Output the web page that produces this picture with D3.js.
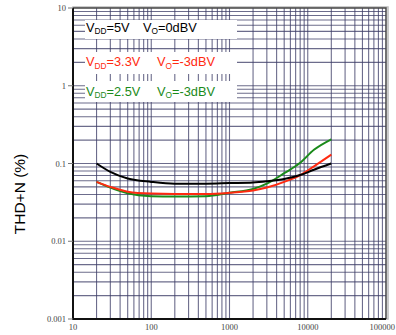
<!DOCTYPE html>
<html>
<head>
<meta charset="utf-8">
<script src="https://cdn.jsdelivr.net/npm/d3@7"></script>
<style>
  body { margin: 0; background: #fff; }
  svg { display: block; }
</style>
</head>
<body>
<div id="chart"></div>
<script>
// frequency (Hz) and THD+N (%)
var freq = [20, 30, 50, 100, 200, 500, 1000, 2000, 3000, 5000, 8000, 12000, 20000];
var thd5v = [0.1, 0.078, 0.064, 0.058, 0.055, 0.055, 0.056, 0.057, 0.059, 0.063, 0.071, 0.083, 0.1];
var thd33v = [0.058, 0.05, 0.0434, 0.041, 0.0405, 0.0405, 0.042, 0.045, 0.049, 0.058, 0.071, 0.092, 0.13];
var thd25v = [0.058, 0.049, 0.0414, 0.038, 0.0375, 0.038, 0.042, 0.047, 0.055, 0.075, 0.102, 0.15, 0.205];

var xTicks = [10, 100, 1000, 10000, 100000];
var yTicks = [0.001, 0.01, 0.1, 1, 10];
var yTickLabels = ["0.001", "0.01", "0.1", "1", "10"];

var series = [
  {vdd: "2.5V", vo: "-3dBV", values: thd25v, color: "#1a8a1a"},
  {vdd: "3.3V", vo: "-3dBV", values: thd33v, color: "#ff2a10"},
  {vdd: "5V", vo: "0dBV", values: thd5v, color: "#000"}
];

var svgWidth = 396, svgHeight = 335;
var margin = {top: 8, right: 10, bottom: 16, left: 73};
var width = 386 - margin.left;
var height = 319 - margin.top;

var svg = d3.select("#chart").append("svg")
  .attr("width", svgWidth)
  .attr("height", svgHeight);

var g = svg.append("g")
  .attr("transform", `translate(${margin.left}, ${margin.top})`);

var x = d3.scaleLog().domain([10, 100000]).range([0, width]);
var y = d3.scaleLog().domain([0.001, 10]).range([height, 0]);

// minor log grid: 1..9 in every decade
var xGrid = [], yGrid = [];
for (var d = 10; d < 100000; d *= 10) {
  for (var k = 1; k < 10; k++) xGrid.push(d * k);
}
for (var d2 = 0.001; d2 < 9; d2 *= 10) {
  for (var k2 = 1; k2 < 10; k2++) yGrid.push(d2 * k2);
}

g.append("g").selectAll("line")
  .data(xGrid.slice(1))
  .enter().append("line")
  .attr("x1", d => x(d)).attr("x2", d => x(d))
  .attr("y1", 0).attr("y2", height)
  .attr("stroke", "#3c3c66")
  .attr("stroke-width", 1.1)
  .attr("opacity", 0.75);

g.append("g").selectAll("line")
  .data(yGrid.slice(1))
  .enter().append("line")
  .attr("x1", 0).attr("x2", width)
  .attr("y1", d => y(d)).attr("y2", d => y(d))
  .attr("stroke", "#3c3c66")
  .attr("stroke-width", 1.1)
  .attr("opacity", 0.75);

// frame: shadow on top/right, heavy left/bottom axis
g.append("rect")
  .attr("x", 0).attr("y", -1)
  .attr("width", width + 2).attr("height", height + 1)
  .attr("fill", "none")
  .attr("stroke", "#bbb")
  .attr("stroke-width", 1.5);
g.append("path")
  .attr("d", `M0,0H${width}V${height}`)
  .attr("fill", "none")
  .attr("stroke", "#444")
  .attr("stroke-width", 1.5);
g.append("path")
  .attr("d", `M0,0V${height}H${width}`)
  .attr("fill", "none")
  .attr("stroke", "#111")
  .attr("stroke-width", 2);

// legend boxes
var legendBoxes = [
  {y: 20, h: 19, s: series[2], vx: 143, base: 31.5},
  {y: 52, h: 22, s: series[1], vx: 157, base: 66},
  {y: 81, h: 21, s: series[0], vx: 157, base: 95.5}
];
legendBoxes.forEach(function(b) {
  svg.append("rect")
    .attr("x", 85).attr("y", b.y)
    .attr("width", 152).attr("height", b.h)
    .attr("fill", "#fff");
  var t1 = svg.append("text")
    .attr("x", 86).attr("y", b.base)
    .attr("font-family", "Liberation Sans, Arial, sans-serif")
    .attr("font-size", 12.8)
    .attr("fill", b.s.color);
  t1.append("tspan").text("V");
  t1.append("tspan").attr("font-size", 8.3).attr("dy", 2.5).text("DD");
  t1.append("tspan").attr("dy", -2.5).text("=" + b.s.vdd);
  var t2 = svg.append("text")
    .attr("x", b.vx).attr("y", b.base)
    .attr("font-family", "Liberation Sans, Arial, sans-serif")
    .attr("font-size", 12.8)
    .attr("fill", b.s.color);
  t2.append("tspan").text("V");
  t2.append("tspan").attr("font-size", 8.3).attr("dy", 2.5).text("O");
  t2.append("tspan").attr("dy", -2.5).text("=" + b.s.vo);
});

// curves
var line = d3.line()
  .x((v, i) => x(freq[i]))
  .y(v => y(v))
  .curve(d3.curveMonotoneX);

series.forEach(function(s) {
  svg.append("path")
    .attr("transform", `translate(${margin.left}, ${margin.top})`)
    .attr("d", line(s.values))
    .attr("fill", "none")
    .attr("stroke", s.color)
    .attr("stroke-width", 2);
});

// y ticks and labels
yTicks.forEach(function(t, i) {
  g.append("line")
    .attr("x1", -5).attr("x2", 0)
    .attr("y1", y(t)).attr("y2", y(t))
    .attr("stroke", "#777");
  g.append("text")
    .attr("x", -7).attr("y", y(t) + 3)
    .attr("text-anchor", "end")
    .attr("font-family", "Liberation Serif, Times New Roman, serif")
    .attr("font-size", 8.5)
    .attr("fill", "#444")
    .text(yTickLabels[i]);
});

// x labels (last one pulled in so it stays on the page)
xTicks.forEach(function(t, i) {
  var last = i === xTicks.length - 1;
  g.append("text")
    .attr("x", last ? svgWidth - margin.left - 1 : x(t)).attr("y", height + 11)
    .attr("text-anchor", last ? "end" : "middle")
    .attr("font-family", "Liberation Serif, Times New Roman, serif")
    .attr("font-size", 8.5)
    .attr("fill", "#444")
    .text(t);
});

// axis title
svg.append("text")
  .attr("transform", "translate(24.5, 194) rotate(-90)")
  .attr("text-anchor", "middle")
  .attr("font-family", "Liberation Sans, Arial, sans-serif")
  .attr("font-size", 15.5)
  .attr("fill", "#000")
  .text("THD+N (%)");
</script>
</body>
</html>
